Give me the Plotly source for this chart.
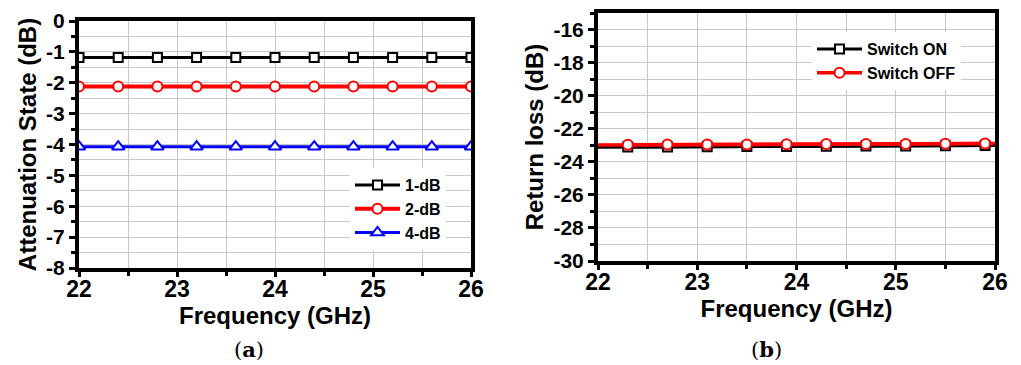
import plotly.graph_objects as go

# (a) attenuation states vs frequency
freq_a = [22.0, 22.4, 22.8, 23.2, 23.6, 24.0, 24.4, 24.8, 25.2, 25.6, 26.0]
att_1db = [-1.18, -1.18, -1.18, -1.18, -1.18, -1.18, -1.18, -1.18, -1.18, -1.18, -1.18]
att_2db = [-2.12, -2.12, -2.12, -2.12, -2.12, -2.12, -2.12, -2.12, -2.12, -2.12, -2.12]
att_4db = [-4.07, -4.07, -4.07, -4.07, -4.07, -4.07, -4.07, -4.07, -4.07, -4.07, -4.07]

# (b) return loss vs frequency (end points plus marked samples)
freq_b = [22.0, 22.3, 22.7, 23.1, 23.5, 23.9, 24.3, 24.7, 25.1, 25.5, 25.9, 26.0]
rl_on = [-23.12, -23.11, -23.10, -23.09, -23.08, -23.07, -23.06, -23.05, -23.04, -23.03, -23.02, -23.02]
rl_off = [-22.98, -22.97, -22.96, -22.96, -22.95, -22.94, -22.93, -22.93, -22.92, -22.91, -22.90, -22.90]

# tick labels (plain hyphen as minus sign)
ya_ticks = [0, -1, -2, -3, -4, -5, -6, -7, -8]
ya_labels = ["0", "-1", "-2", "-3", "-4", "-5", "-6", "-7", "-8"]
yb_ticks = [-16, -18, -20, -22, -24, -26, -28, -30]
yb_labels = ["-16", "-18", "-20", "-22", "-24", "-26", "-28", "-30"]

W, H = 1021, 365
FONT = "Liberation Sans, Arial, sans-serif"
GRID = "#c8c8c8"

fig = go.Figure()

# panel (a)
series_a = [
    ("1-dB", att_1db, "black", "square", 9, 3),
    ("2-dB", att_2db, "red", "circle", 10, 4),
    ("4-dB", att_4db, "blue", "triangle-up", 11, 3),
]
for name, vals, col, sym, size, lw in series_a:
    fig.add_trace(go.Scatter(
        x=freq_a, y=vals, name=name, mode="lines+markers",
        line=dict(color=col, width=lw),
        marker=dict(symbol=sym, size=size, color="white", line=dict(color=col, width=2)),
        xaxis="x", yaxis="y", legend="legend",
    ))

# panel (b): full line, then marked samples
series_b = [
    ("Switch ON", rl_on, "black", "square", 9, 3),
    ("Switch OFF", rl_off, "red", "circle", 10, 3.5),
]
for name, vals, col, sym, size, lw in series_b:
    fig.add_trace(go.Scatter(
        x=freq_b, y=vals, mode="lines", showlegend=False,
        line=dict(color=col, width=lw), hoverinfo="skip",
        xaxis="x2", yaxis="y2",
    ))
    fig.add_trace(go.Scatter(
        x=freq_b[1:-1], y=vals[1:-1], name=name, mode="lines+markers",
        line=dict(color=col, width=lw),
        marker=dict(symbol=sym, size=size, color="white", line=dict(color=col, width=2)),
        xaxis="x2", yaxis="y2", legend="legend2",
    ))


def xaxis_style(domain, anchor):
    return dict(
        domain=domain, range=[22, 26], tick0=22, dtick=1, anchor=anchor,
        ticks="outside", ticklen=5, tickwidth=3, tickcolor="black",
        ticklabelstandoff=-8,
        showline=True, linewidth=4, linecolor="black", mirror=True,
        showgrid=True, gridcolor=GRID, gridwidth=1, zeroline=False,
        minor=dict(dtick=0.5, ticks="outside", ticklen=4, tickwidth=3,
                   tickcolor="black", showgrid=True, gridcolor=GRID, gridwidth=1),
        tickfont=dict(family=FONT, size=23, color="black", weight="bold"),
        title=dict(text="Frequency (GHz)", standoff=2,
                   font=dict(family=FONT, size=24, color="black", weight="bold")),
        automargin=False,
    )


def yaxis_style(domain, rng, tvals, ttext, minor, title, anchor):
    return dict(
        domain=domain, range=rng, tickvals=tvals, ticktext=ttext, anchor=anchor,
        ticks="outside", ticklen=6, tickwidth=3, tickcolor="black",
        showline=True, linewidth=4, linecolor="black", mirror=True,
        showgrid=True, gridcolor=GRID, gridwidth=1, zeroline=False,
        minor=dict(dtick=minor, tick0=rng[0], ticks="outside", ticklen=4, tickwidth=3,
                   tickcolor="black", showgrid=True, gridcolor=GRID, gridwidth=1),
        tickfont=dict(family=FONT, size=21, color="black", weight="bold"),
        title=dict(text=title, standoff=4,
                   font=dict(family=FONT, size=24, color="black", weight="bold")),
        automargin=False,
    )


legend_font = dict(family=FONT, size=16, color="black", weight="bold")

fig.update_layout(
    width=W, height=H,
    margin=dict(l=0, r=0, t=0, b=0),
    paper_bgcolor="white", plot_bgcolor="white",
    xaxis=xaxis_style([79 / W, 471 / W], "y"),
    yaxis=yaxis_style([1 - 268 / H, 1 - 21 / H], [-8, 0], ya_ticks, ya_labels, 0.5,
                      "Attenuation State (dB)", "x"),
    xaxis2=xaxis_style([598 / W, 995 / W], "y2"),
    yaxis2=yaxis_style([1 - 261 / H, 1 - 13 / H], [-30, -15], yb_ticks, yb_labels, 1,
                       "Return loss (dB)", "x2"),
    legend=dict(x=350 / W, y=1 - 168 / H, xanchor="left", yanchor="top",
                bgcolor="white", borderwidth=0, font=legend_font,
                tracegroupgap=0, itemwidth=45, itemclick=False),
    legend2=dict(x=812 / W, y=1 - 32 / H, xanchor="left", yanchor="top",
                 bgcolor="white", borderwidth=0, font=legend_font,
                 tracegroupgap=0, itemwidth=45, itemclick=False),
    showlegend=True,
)

cap_font = dict(family="DejaVu Serif, Liberation Serif, serif", size=21, color="black")
fig.add_annotation(x=249 / W, y=1 - 349 / H, xref="paper", yref="paper",
                   xanchor="center", yanchor="middle",
                   text="(<b>a</b>)", showarrow=False, font=cap_font)
fig.add_annotation(x=766 / W, y=1 - 349 / H, xref="paper", yref="paper",
                   xanchor="center", yanchor="middle",
                   text="(<b>b</b>)", showarrow=False, font=cap_font)

fig.write_html("out.html")
